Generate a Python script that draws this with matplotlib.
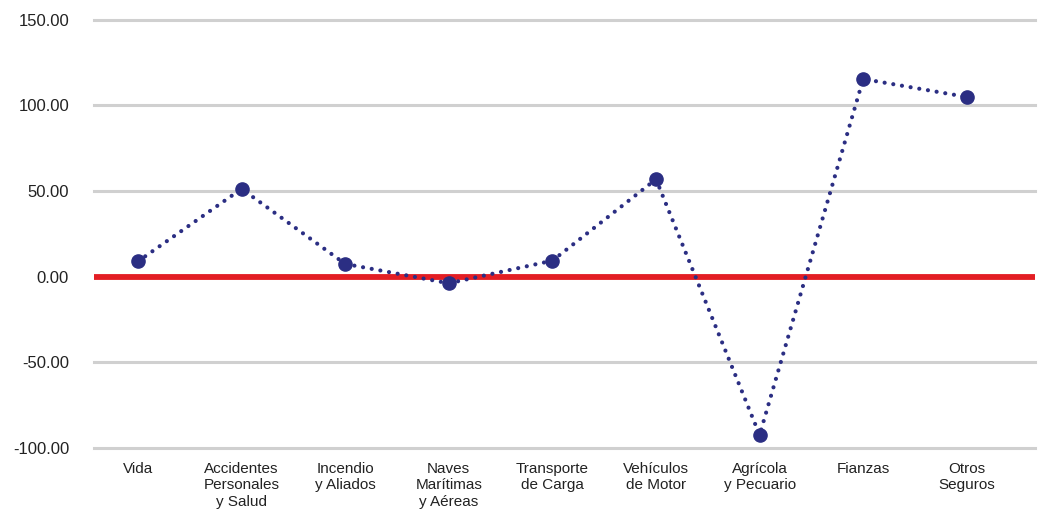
import matplotlib
matplotlib.use("Agg")
import matplotlib.pyplot as plt

categories = ["Vida", "Accidentes\nPersonales\ny Salud", "Incendio\ny Aliados",
              "Naves\nMarítimas\ny Aéreas", "Transporte\nde Carga", "Vehículos\nde Motor",
              "Agrícola\ny Pecuario", "Fianzas", "Otros\nSeguros"]
values = [8.9, 51.2, 7.4, -3.9, 9.3, 56.8, -92.4, 115.3, 104.8]
yticks = [-100, -50, 0, 50, 100, 150]

plt.rcParams['font.family'] = ['Liberation Sans', 'DejaVu Sans']

fig = plt.figure(figsize=(10.4, 5.12), dpi=100)
ax = fig.add_axes([94/1040, 1-448/512, (1035-94)/1040, (448-19.5)/512])

x = list(range(len(categories)))
for yv in yticks:
    if yv == 0:
        continue
    ax.axhline(yv, color='#d0d0d0', lw=2.2, zorder=1, clip_on=False)
ax.axhline(0, color='#e31e24', lw=4.2, zorder=2)

line, = ax.plot(x, values, color='#2b2e83', lw=3, linestyle=(0, (0.01, 2.1)),
                marker='o', markersize=9.5, zorder=3, clip_on=False)
line.set_dash_capstyle('round')

step = 103.6
ax.set_xlim((94 - 138) / step, (1035 - 138) / step)
ax.set_ylim(-100, 150)
ax.set_yticks(yticks)
ax.set_yticklabels([f"{v:.2f}" for v in yticks], fontsize=12, color='#222222')
ax.set_xticks(x)
ax.set_xticklabels(categories, fontsize=11, color='#222222', linespacing=1.22)
ax.tick_params(axis='y', length=0, pad=18)
ax.tick_params(axis='x', length=0, pad=10)
for s in ax.spines.values():
    s.set_visible(False)

fig.savefig("out.png", dpi=100)
